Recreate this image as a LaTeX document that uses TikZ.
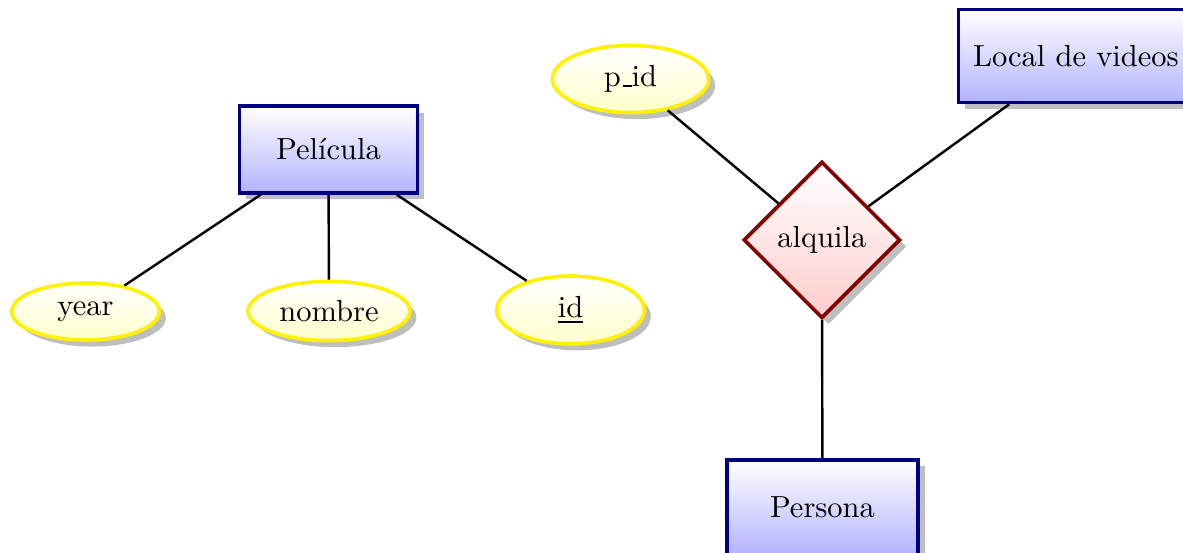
\documentclass[tikz,border=0pt]{standalone}
\usetikzlibrary{shapes.geometric,shadows}

\newcommand{\uscore}{\kern.06em\vbox{\hrule width.3em}}

\begin{document}
\begin{tikzpicture}[
    entity/.style={rectangle,draw=blue!50!black,very thick,top color=white,bottom color=blue!30,
      minimum width=2.05cm,minimum height=1cm,drop shadow},
    attribute/.style={ellipse,draw=yellow,very thick,top color=white,bottom color=yellow!20,
      inner xsep=2.5pt,minimum width=1.7cm,drop shadow},
    relationship/.style={diamond,aspect=1,draw=red!50!black,very thick,top color=white,bottom color=red!20,drop shadow},
    link/.style={thick}]
    \useasboundingbox (0,0) rectangle (13.63,-6.36);
    % entities
    \node[entity] (pelicula) at (3.785,-1.722) {Película};
    \node[entity,minimum width=2.7cm,minimum height=1.07cm] (local) at (12.395,-0.645) {Local de videos};
    \node[entity,minimum width=2.2cm,minimum height=1.1cm] (persona) at (9.476,-5.849) {Persona};
    % relationship
    \node[relationship] (alquila) at (9.47,-2.765) {alquila};
    % attributes
    \node[attribute] (year) at (0.985,-3.589) {year};
    \node[attribute] (nombre) at (3.79,-3.583) {nombre};
    \node[attribute] (id) at (6.573,-3.571) {\underline{id}};
    \node[attribute,minimum width=1.8cm] (pid) at (7.264,-0.91) {p\uscore id};
    % links
    \draw[link] (pelicula) -- (year);
    \draw[link] (pelicula) -- (nombre);
    \draw[link] (pelicula) -- (id);
    \draw[link] (pid) -- (alquila);
    \draw[link] (local) -- (alquila);
    \draw[link] (persona) -- (alquila);
\end{tikzpicture}
\end{document}
